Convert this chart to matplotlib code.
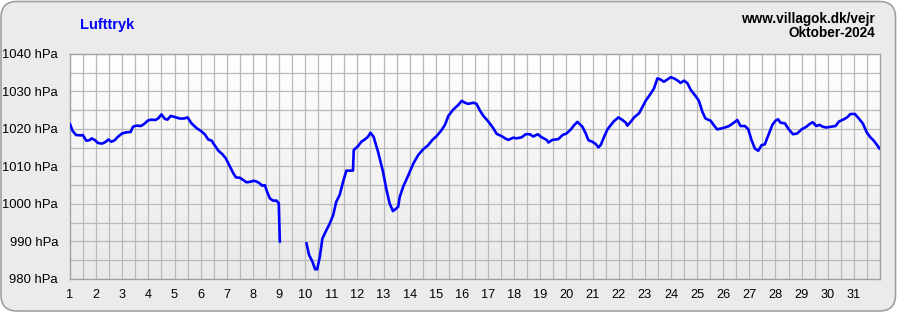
import numpy as np
import matplotlib
matplotlib.use("Agg")
import matplotlib.pyplot as plt
from matplotlib.patches import FancyBboxPatch
from matplotlib.colors import LinearSegmentedColormap

# ---- data ----
days = [1.0, 1.1, 1.23, 1.42, 1.49, 1.62, 1.74, 1.83, 1.96, 2.06, 2.22, 2.35, 2.47, 2.58, 2.71, 2.83, 2.99,
        3.15, 3.32, 3.41, 3.54, 3.71, 3.83, 3.99, 4.12, 4.27, 4.37, 4.5, 4.63, 4.73, 4.86, 5.01, 5.2, 5.37,
        5.5, 5.65, 5.85, 6.01, 6.17, 6.29, 6.42, 6.55, 6.68, 6.83, 6.96, 7.09, 7.25, 7.35, 7.5, 7.63, 7.75,
        7.88, 8.03, 8.14, 8.26, 8.35, 8.46, 8.54, 8.65, 8.77, 8.9, 8.99, 9.03, 9.5,
        10.05, 10.15, 10.28, 10.38, 10.46, 10.56, 10.66, 10.81, 10.94, 11.07, 11.19, 11.32, 11.47, 11.58,
        11.83, 11.86, 12.02, 12.15, 12.28, 12.4, 12.5, 12.62, 12.79, 12.98, 13.1, 13.23, 13.36, 13.49,
        13.56, 13.62, 13.75, 13.95, 14.14, 14.33, 14.52, 14.71, 14.87, 15.03, 15.22, 15.35, 15.48, 15.67,
        15.86, 15.99, 16.12, 16.24, 16.44, 16.56, 16.69, 16.82, 17.01, 17.2, 17.33, 17.52, 17.65, 17.78,
        17.97, 18.09, 18.29, 18.44, 18.6, 18.73, 18.9, 19.05, 19.24, 19.31, 19.46, 19.69, 19.85, 20.0,
        20.17, 20.29, 20.42, 20.51, 20.61, 20.74, 20.84, 20.99, 21.12, 21.22, 21.31, 21.44, 21.57, 21.69,
        21.82, 21.99, 22.14, 22.27, 22.33, 22.46, 22.59, 22.78, 22.9, 23.03, 23.18, 23.35, 23.48, 23.6,
        23.73, 23.86, 23.99, 24.11, 24.24, 24.37, 24.5, 24.63, 24.76, 24.94, 25.07, 25.2, 25.32, 25.52,
        25.64, 25.77, 25.96, 26.15, 26.22, 26.37, 26.54, 26.66, 26.83, 26.96, 27.08, 27.21, 27.34, 27.47,
        27.59, 27.75, 27.88, 28.0, 28.1, 28.19, 28.36, 28.51, 28.67, 28.83, 29.0, 29.18, 29.3, 29.43,
        29.56, 29.69, 29.81, 29.94, 30.11, 30.3, 30.43, 30.62, 30.74, 30.87, 31.04, 31.19, 31.34, 31.5,
        31.63, 31.76, 31.89, 31.98]
pressure = [1021.3, 1019.5, 1018.4, 1018.3, 1018.4, 1016.9, 1017.0, 1017.5, 1017.0, 1016.3, 1016.1, 1016.5,
            1017.2, 1016.6, 1017.0, 1017.9, 1018.8, 1019.1, 1019.2, 1020.6, 1020.9, 1020.8, 1021.3, 1022.3,
            1022.5, 1022.4, 1022.8, 1023.9, 1022.7, 1022.5, 1023.5, 1023.2, 1022.8, 1022.8, 1023.1, 1021.5,
            1020.2, 1019.5, 1018.5, 1017.2, 1016.9, 1015.5, 1014.2, 1013.3, 1012.2, 1010.4, 1008.2, 1007.1,
            1007.0, 1006.4, 1005.8, 1005.9, 1006.2, 1006.0, 1005.5, 1004.9, 1005.0, 1003.3, 1001.5, 1000.9,
            1000.9, 1000.2, 990.0, np.nan,
            989.5, 986.4, 984.6, 982.6, 982.6, 985.9, 990.8, 993.0, 994.8, 997.0, 1000.6, 1002.4, 1006.4,
            1008.9, 1008.9, 1014.4, 1015.4, 1016.6, 1017.2, 1017.9, 1019.0, 1017.9, 1013.9, 1008.6, 1004.2,
            1000.2, 998.1, 998.8, 999.3, 1001.9, 1004.6, 1007.7, 1010.8, 1013.1, 1014.6, 1015.7, 1017.1,
            1018.1, 1019.7, 1021.1, 1023.5, 1025.2, 1026.4, 1027.5, 1027.0, 1026.7, 1027.0, 1026.7, 1024.9,
            1023.5, 1022.0, 1020.2, 1018.7, 1018.1, 1017.5, 1017.1, 1017.7, 1017.5, 1017.8, 1018.6, 1018.6,
            1018.0, 1018.6, 1017.8, 1017.1, 1016.4, 1017.1, 1017.3, 1018.4, 1018.8, 1019.9, 1021.0, 1021.9,
            1021.3, 1020.6, 1018.8, 1017.0, 1016.6, 1016.0, 1015.1, 1015.7, 1017.9, 1019.9, 1021.0, 1022.1,
            1023.1, 1022.4, 1021.7, 1020.9, 1021.9, 1023.1, 1024.2, 1025.8, 1027.5, 1029.0, 1030.8, 1033.5,
            1033.2, 1032.6, 1033.2, 1033.8, 1033.5, 1033.0, 1032.3, 1032.9, 1032.2, 1030.4, 1028.8, 1027.5,
            1024.6, 1022.8, 1022.2, 1021.0, 1019.9, 1020.2, 1020.6, 1020.8, 1021.5, 1022.4, 1020.8, 1020.8,
            1019.9, 1017.1, 1014.8, 1014.2, 1015.7, 1015.9, 1018.8, 1021.1, 1022.2, 1022.6, 1021.7, 1021.5,
            1019.9, 1018.6, 1018.8, 1019.9, 1020.6, 1021.3, 1021.8, 1020.8, 1021.1, 1020.6, 1020.4, 1020.6,
            1020.8, 1022.0, 1022.6, 1023.1, 1024.0, 1024.0, 1022.8, 1021.5, 1019.0, 1017.8, 1016.9, 1015.7,
            1014.8]
y_ticks = [980, 990, 1000, 1010, 1020, 1030, 1040]
y_labels = [f"{v} hPa" for v in y_ticks]
x_ticks = list(range(1, 32))
x_labels = [str(d) for d in x_ticks]
title = "Lufttryk"
site = "www.villagok.dk/vejr"
period = "Oktober-2024"

plt.rcParams['font.family'] = ['Liberation Sans', 'DejaVu Sans']

W, H = 897, 312
fig = plt.figure(figsize=(W / 100, H / 100), dpi=100, facecolor='white')

# background axes in pixel units for the rounded panel
bg = fig.add_axes([0, 0, 1, 1], zorder=-5)
bg.set_xlim(0, W)
bg.set_ylim(0, H)
bg.axis('off')
panel = FancyBboxPatch((1, 1), W - 2.5, H - 2.5,
                       boxstyle="round,pad=0,rounding_size=16",
                       facecolor='#ebebeb', edgecolor='#a0a0a0', linewidth=1.2)
bg.add_patch(panel)

left, right, top, bottom = 70, 880, 54, 279
ax = fig.add_axes([left / W, (H - bottom) / H, (right - left) / W, (bottom - top) / H], zorder=1)
ax.set_facecolor('none')

# gradient background of plot area
grad = np.linspace(1, 0, 256).reshape(-1, 1)
cmap = LinearSegmentedColormap.from_list('g', ['#e9e9e9', '#ffffff'])
ax.imshow(grad, extent=[0, 1, 0, 1], transform=ax.transAxes, aspect='auto',
          cmap=cmap, zorder=0, origin='upper', vmin=0, vmax=1)

ax.set_xlim(1, 32)
ax.set_ylim(980, 1040)

for xv in np.arange(1.5, 32, 0.5):
    ax.axvline(xv, color='#b9b9b9', lw=0.9, zorder=1)
for yv in np.arange(985, 1040, 5):
    ax.axhline(yv, color='#b9b9b9', lw=0.9, zorder=1)

ax.plot(days, pressure, color='#0000ff', lw=1.9, zorder=3, solid_joinstyle='round')

ax.set_xticks(x_ticks)
ax.set_xticklabels(x_labels, fontsize=9.2)
ax.set_yticks(y_ticks)
ax.set_yticklabels(y_labels, fontsize=9.4)
ax.tick_params(length=0)
ax.tick_params(axis='x', pad=7)
ax.tick_params(axis='y', pad=8.6)
for s in ax.spines.values():
    s.set_color('#a0a0a0')
    s.set_linewidth(1.0)

fig.text(80 / W, 1 - 25 / H, title, color='#0000ff', fontsize=10.5, fontweight='bold',
         ha='left', va='center')
fig.text(875 / W, 1 - 19 / H, site, color='black', fontsize=9.8, fontweight='bold',
         ha='right', va='center')
fig.text(875 / W, 1 - 33 / H, period, color='black', fontsize=9.8, fontweight='bold',
         ha='right', va='center')

fig.savefig('out.png', dpi=100, facecolor='white')
